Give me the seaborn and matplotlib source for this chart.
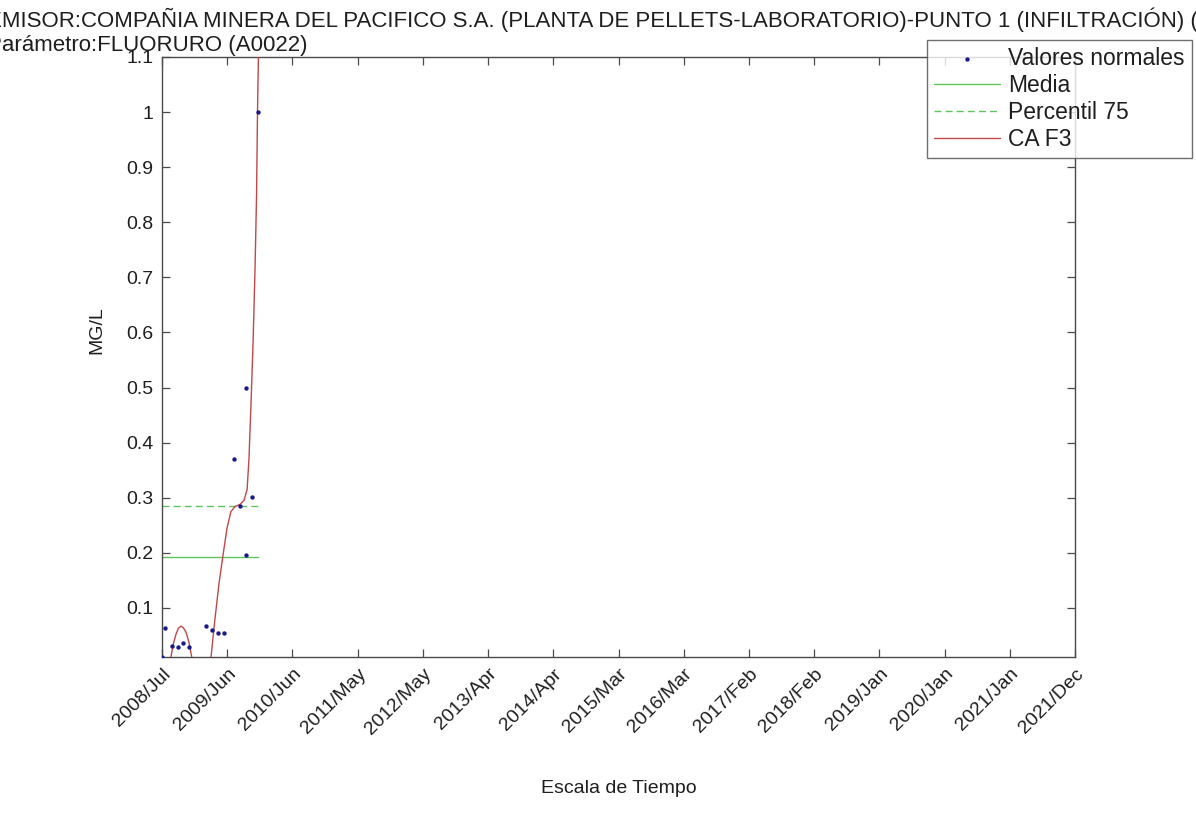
import numpy as np
import pandas as pd
import matplotlib
matplotlib.use("Agg")
import matplotlib.pyplot as plt
import matplotlib.dates as mdates
import seaborn as sns

# ---- data -------------------------------------------------------------
START = pd.Timestamp("2008-07-05")
END = pd.Timestamp("2021-12-18")

# sampling campaigns (days after START) and fluoride concentration (mg/L)
sample_days = [0, 15, 55, 85, 115, 147, 235, 268, 303, 334, 389, 421, 452, 452, 486, 515]
sample_mg = [0.011, 0.064, 0.031, 0.030, 0.036, 0.030, 0.067, 0.060, 0.055, 0.055,
             0.370, 0.285, 0.196, 0.500, 0.302, 1.000]

# CA F3 trend curve (days after START, mg/L)
curve_days = [0, 22, 48, 62, 75, 88, 102, 115, 129, 145, 160, 183, 210, 237, 264,
              285, 307, 328, 350, 371, 393, 420, 441, 458, 468, 479, 490, 501,
              509, 514, 519, 525]
curve_mg = [-0.130, -0.070, 0.011, 0.036, 0.052, 0.063, 0.067, 0.064, 0.056, 0.038,
            0.011, -0.060, -0.120, -0.080, 0.011, 0.080, 0.145, 0.195, 0.245, 0.275,
            0.284, 0.288, 0.295, 0.315, 0.370, 0.470, 0.580, 0.720, 0.850, 1.000,
            1.100, 1.250]

tick_labels = ["2008/Jul", "2009/Jun", "2010/Jun", "2011/May", "2012/May", "2013/Apr",
               "2014/Apr", "2015/Mar", "2016/Mar", "2017/Feb", "2018/Feb", "2019/Jan",
               "2020/Jan", "2021/Jan", "2021/Dec"]
y_ticks = [0.1, 0.2, 0.3, 0.4, 0.5, 0.6, 0.7, 0.8, 0.9, 1.0, 1.1]
y_tick_labels = ["0.1", "0.2", "0.3", "0.4", "0.5", "0.6", "0.7", "0.8", "0.9", "1", "1.1"]

title_text = ("EMISOR:COMPAÑIA MINERA DEL PACIFICO S.A. (PLANTA DE PELLETS-LABORATORIO)"
              "-PUNTO 1 (INFILTRACIÓN) (\nParámetro:FLUORURO (A0022)")

# ---- frames -------------------------------------------------------------
samples = pd.DataFrame({
    "fecha": START + pd.to_timedelta(sample_days, unit="D"),
    "valor": sample_mg,
})
curve = pd.DataFrame({
    "fecha": START + pd.to_timedelta(curve_days, unit="D"),
    "valor": curve_mg,
})
media = float(np.mean(sample_mg))
p75 = float(np.percentile(sample_mg, 75, method="lower"))

# ---- style ------------------------------------------------------------
sns.set_style("white")
plt.rcParams["font.family"] = ["Liberation Sans", "DejaVu Sans"]
plt.rcParams["axes.edgecolor"] = "#4a4a4a"
plt.rcParams["axes.linewidth"] = 1.0

W, H = 1196, 817
fig = plt.figure(figsize=(W / 100, H / 100), dpi=100)
ax = fig.add_axes([162 / W, 1 - 657 / H, (1075 - 162) / W, (657 - 57) / H])

GREEN = "#5cc45c"
RED = "#c04848"
NAVY = "#1a1a8c"
TXT = "#1e1e1e"
FS = 14

sns.scatterplot(data=samples, x="fecha", y="valor", ax=ax, color=NAVY, s=10,
                marker="o", edgecolor=NAVY, linewidth=0, label="Valores normales",
                zorder=4)
first, last = samples["fecha"].min(), samples["fecha"].max()
ax.plot([first, last], [media, media], color=GREEN, lw=1.0, label="Media", zorder=2)
ax.plot([first, last], [p75, p75], color=GREEN, lw=1.0, ls=(0, (5, 3)),
        label="Percentil 75", zorder=2)
sns.lineplot(data=curve, x="fecha", y="valor", ax=ax, color=RED, lw=1.0,
             label="CA F3", sort=False, zorder=3)

# ---- axes ---------------------------------------------------------------
ax.set_xlim(START, END)
ax.set_ylim(min(sample_mg), 1.1)
ticks = pd.date_range(START, END, periods=len(tick_labels))
ax.set_xticks(mdates.date2num(ticks))
ax.set_xticklabels(tick_labels, rotation=45, ha="right", va="top",
                   rotation_mode="anchor", fontsize=FS, color=TXT)
ax.set_yticks(y_ticks)
ax.set_yticklabels(y_tick_labels, fontsize=FS, color=TXT)
ax.tick_params(axis="both", which="major", direction="in", length=6, width=0.9,
               color="#4a4a4a", top=True, right=True, bottom=True, left=True, pad=6)
ax.tick_params(axis="x", pad=6)

ax.set_xlabel("Escala de Tiempo", fontsize=FS, color=TXT)
ax.xaxis.set_label_coords(0.5, -0.205)
ax.set_ylabel("MG/L", fontsize=FS, color=TXT)
ax.yaxis.set_label_coords(-0.062, 0.545)

fig.text(-13 / W, 1 - 7 / H, title_text, ha="left", va="top", fontsize=16,
         color=TXT, linespacing=1.2)

leg = ax.legend(loc="upper left", bbox_to_anchor=(927 / W, 1 - 40 / H),
                bbox_transform=fig.transFigure, borderaxespad=0, fontsize=16.5,
                frameon=True, fancybox=False, edgecolor="#4a4a4a",
                handlelength=2.9, handletextpad=0.35, borderpad=0.3,
                labelspacing=0.18, markerscale=1.0)
leg.get_frame().set_linewidth(1.0)
for t in leg.get_texts():
    t.set_color(TXT)

fig.savefig("out.png", dpi=100, facecolor="white")
